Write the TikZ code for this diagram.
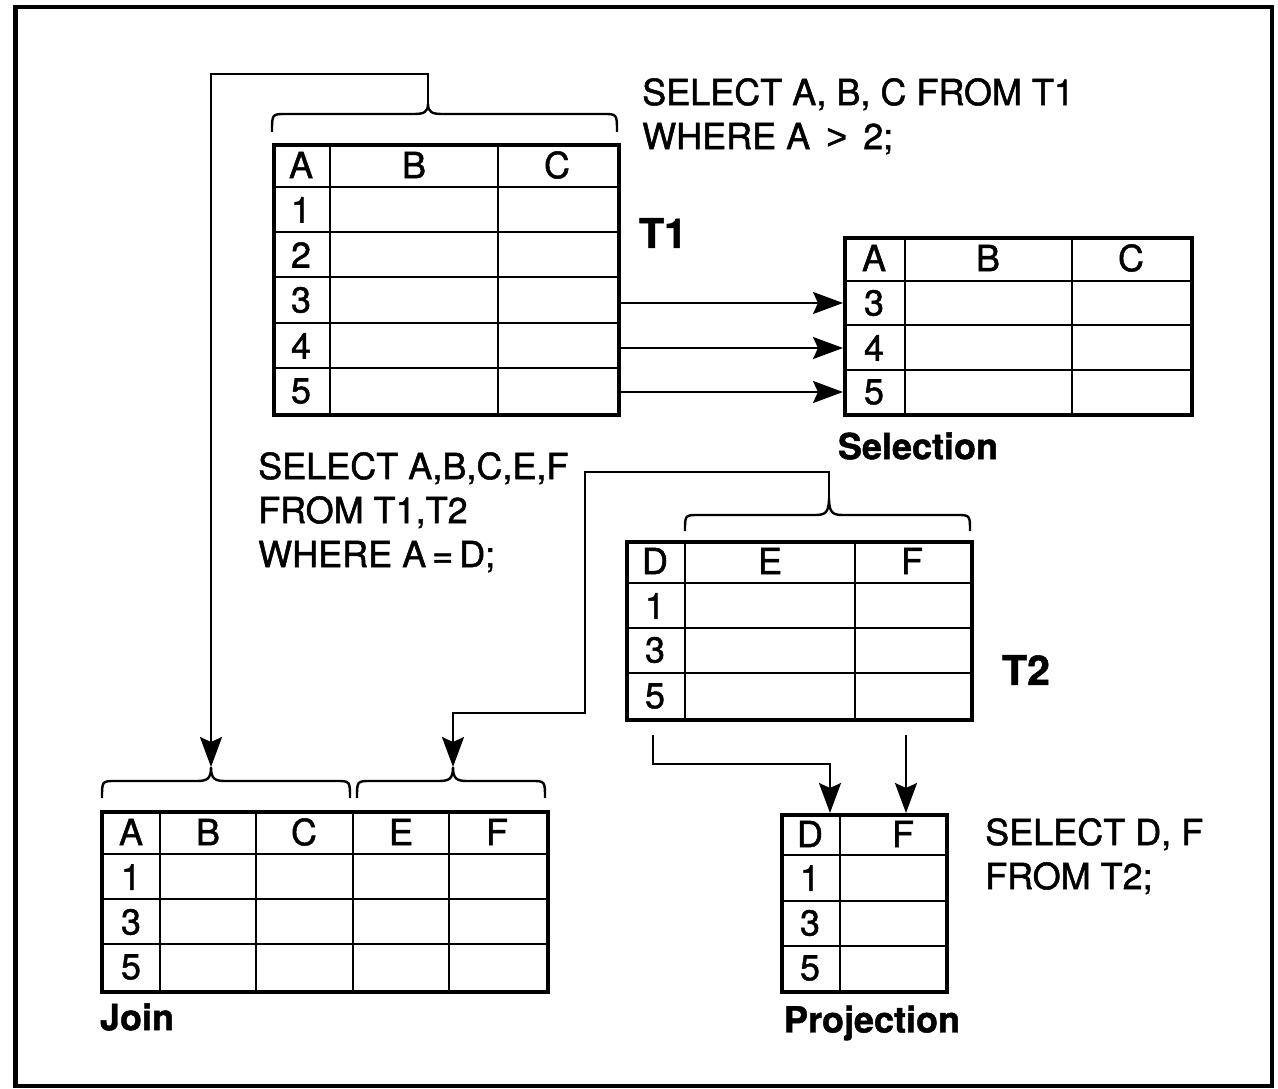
\documentclass[tikz,border=0pt]{standalone}
\usepackage{fontspec}
\setmainfont{TeX Gyre Heros}[RawFeature={embolden=1.3}]
\newfontfamily\gtfont{Liberation Sans}[RawFeature={embolden=1.3}]
\usetikzlibrary{arrows.meta}
\newcommand\drawbrace[6]{%
  \draw[brc] (#1,#4) .. controls (#1,#3) .. (#1+14,#3) -- (#5-14,#3)
    .. controls (#5-4,#3) and (#5,#3-2) .. (#5,#6)
    .. controls (#5,#3-2) and (#5+4,#3) .. (#5+14,#3) -- (#2-14,#3)
    .. controls (#2,#3) .. (#2,#4);}
\begin{document}
\begin{tikzpicture}[x=1pt,y=-1pt,
  frame/.style={line width=4pt},
  outer/.style={draw, line width=4pt, inner sep=0pt, anchor=north west},
  grid/.style={line width=2.4pt},
  conn/.style={line width=2.2pt},
  arr/.style={-{Stealth[length=30pt,width=22pt,inset=5pt]}},
  brc/.style={line width=2.4pt},
  cell/.style={font=\fontsize{36}{40}\selectfont, inner sep=0pt},
  sql/.style={font=\fontsize{36}{44}\selectfont, inner sep=0pt, anchor=north west, align=left},
  lbl/.style={font=\bfseries\fontsize{36}{40}\selectfont, inner sep=0pt},
  big/.style={font=\bfseries\fontsize{41}{44}\selectfont, inner sep=0pt},
]
\useasboundingbox (0,0) rectangle (1278,1089);
\draw[frame] (15,7) rectangle (1272,1086);
\draw[line width=3pt] (16,8) -- (16,1085);

% ---------- T1 ----------
\node[outer, minimum width=345pt, minimum height=270pt] (T1) at (272,143) {};
\foreach \x in {330,498} \draw[grid] (\x,143) -- (\x,413);
\foreach \y in {187,232,277,323,368} \draw[grid] (272,\y) -- (617,\y);
\node[cell] (t1A) at (301,165) {A};
\node[cell] (t1B) at (414,165) {B};
\node[cell] (t1C) at (557,165) {C};
\node[cell] (t1r1) at (301,210) {1};
\node[cell] (t1r2) at (301,255) {2};
\node[cell] (t1r3) at (301,300) {3};
\node[cell] (t1r4) at (301,346) {4};
\node[cell] (t1r5) at (301,391) {5};
\node[big] (t1lbl) at (663,233) {T1};
\node[sql] (sql1) at (642,78) {SELECT A, B, C FROM T1\\WHERE A \,{\gtfont >}\, 2;};
\drawbrace{272}{617}{114}{132}{428}{104}
\coordinate (b1) at (428,104);

% ---------- Selection ----------
\node[outer, minimum width=347pt, minimum height=177pt] (S) at (843,236) {};
\foreach \x in {905,1072} \draw[grid] (\x,236) -- (\x,413);
\foreach \y in {281,325,370} \draw[grid] (843,\y) -- (1190,\y);
\node[cell] (sA) at (874,258) {A};
\node[cell] (sB) at (988,258) {B};
\node[cell] (sC) at (1131,258) {C};
\node[cell] (s3) at (874,303) {3};
\node[cell] (s4) at (874,348) {4};
\node[cell] (s5) at (874,392) {5};
\node[lbl] (slbl) at (918,446) {Selection};
\draw[conn,arr] (T1.east |- s3) -- (S.west |- s3);
\draw[conn,arr] (T1.east |- s4) -- (S.west |- s4);
\draw[conn,arr] (T1.east |- s5) -- (S.west |- s5);

% ---------- T2 ----------
\node[outer, minimum width=345pt, minimum height=178pt] (T2) at (625,540) {};
\foreach \x in {685,855} \draw[grid] (\x,540) -- (\x,718);
\foreach \y in {583,628,673} \draw[grid] (625,\y) -- (970,\y);
\node[cell] (t2D) at (655,561) {D};
\node[cell] (t2E) at (770,561) {E};
\node[cell] (t2F) at (912,561) {F};
\node[cell] (t2r1) at (655,606) {1};
\node[cell] (t2r3) at (655,650) {3};
\node[cell] (t2r5) at (655,696) {5};
\node[big] (t2lbl) at (1026,670) {T2};
\drawbrace{685}{970}{515}{531}{829}{498}
\coordinate (b2) at (829,498);
\node[sql] (sql2) at (258,452) {SELECT A,B,C,E,F\\FROM T1,T2\\WHERE A\,=\,D;};

% ---------- Join ----------
\node[outer, minimum width=446pt, minimum height=180pt] (J) at (100,810) {};
\foreach \x in {160,256,353,449} \draw[grid] (\x,810) -- (\x,990);
\foreach \y in {854,899,944} \draw[grid] (100,\y) -- (546,\y);
\node[cell] (jA) at (131,832) {A};
\node[cell] (jB) at (208,832) {B};
\node[cell] (jC) at (304,832) {C};
\node[cell] (jE) at (401,832) {E};
\node[cell] (jF) at (497,832) {F};
\node[cell] (j1) at (131,877) {1};
\node[cell] (j3) at (131,922) {3};
\node[cell] (j5) at (131,967) {5};
\node[lbl] (jlbl) at (137,1017) {Join};
\drawbrace{102}{350}{781}{798}{211}{767}
\drawbrace{357}{545}{781}{798}{453}{767}
\coordinate (jb1) at (211,767);
\coordinate (jb2) at (453,767);
\draw[conn,arr] (b1) -- ++(0,-30) -| (jb1);
\draw[conn,arr] (b2) -- ++(0,-26) -| (585,713) -| (jb2);

% ---------- Projection ----------
\node[outer, minimum width=165pt, minimum height=177pt] (P) at (780,813) {};
\draw[grid] (840,813) -- (840,990);
\foreach \y in {855,901,946} \draw[grid] (780,\y) -- (945,\y);
\node[cell] (pD) at (810,834) {D};
\node[cell] (pF) at (903,834) {F};
\node[cell] (p1) at (810,878) {1};
\node[cell] (p3) at (810,923) {3};
\node[cell] (p5) at (810,968) {5};
\node[lbl] (plbl) at (872,1023) {Projection};
\node[sql] (sql3) at (985,818) {SELECT D, F\\FROM T2;};
\coordinate (p1s) at (653,735);
\coordinate (p1e) at (830,813);
\coordinate (p2s) at (906,735);
\coordinate (p2e) at (906,813);
\draw[conn,arr] (p1s) -- ++(0,29) -| (p1e);
\draw[conn,arr] (p2s) -- (p2e);
\end{tikzpicture}
\end{document}
